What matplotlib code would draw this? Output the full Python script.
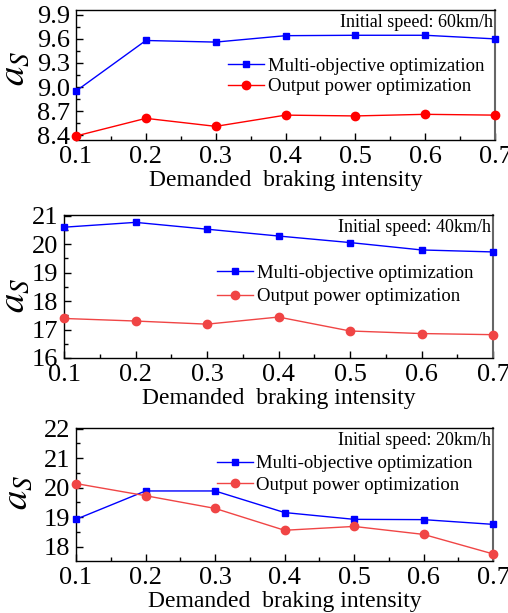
import matplotlib
matplotlib.use("Agg")
import matplotlib.pyplot as plt
from matplotlib.ticker import MultipleLocator, AutoMinorLocator

plt.rcParams.update({
    "font.family": "Liberation Serif",
    "mathtext.fontset": "stix",
    "font.size": 16,
    "xtick.direction": "in",
    "ytick.direction": "in",
})

intensity = [0.1, 0.2, 0.3, 0.4, 0.5, 0.6, 0.7]

multi_60 = [8.95, 9.58, 9.56, 9.64, 9.645, 9.645, 9.60]
power_60 = [8.39, 8.61, 8.51, 8.65, 8.64, 8.66, 8.65]

multi_40 = [20.60, 20.77, 20.53, 20.29, 20.06, 19.80, 19.73]
power_40 = [17.39, 17.30, 17.19, 17.44, 16.95, 16.86, 16.82]

multi_20 = [18.93, 19.89, 19.89, 19.16, 18.93, 18.92, 18.76]
power_20 = [20.14, 19.73, 19.30, 18.56, 18.69, 18.42, 17.76]

speed_labels = ["Initial speed: 60km/h", "Initial speed: 40km/h", "Initial speed: 20km/h"]

BLUE = "#0000FF"

panels = [
    # rect, multi, power, red, ylim, ystep, yfmt, legend anchor, label spacing, ylabel xy
    ([0.1496, 0.7716, 0.825, 0.2121], multi_60, power_60, "#FF0000",
     (8.34, 9.96), 0.3, "{:.1f}", (0.363, 0.49), 0.18, (-0.102, 0.55)),
    ([0.126, 0.416, 0.8445, 0.2333], multi_40, power_40, "#F04545",
     (16.0, 21.03), 1.0, "{:.0f}", (0.357, 0.51), 0.32, (-0.072, 0.44)),
    ([0.1496, 0.0848, 0.821, 0.217], multi_20, power_20, "#F04545",
     (17.52, 22.02), 1.0, "{:.0f}", (0.338, 0.65), 0.22, (-0.096, 0.52)),
]

fig = plt.figure(figsize=(5.08, 6.13), dpi=100)

for (rect, multi, power, red, ylim, ystep, yfmt, anchor, lsp, ylab_xy), speed in zip(panels, speed_labels):
    ax = fig.add_axes(rect)
    ax.plot(intensity, multi, "-s", color=BLUE, lw=1, markersize=5,
            label="Multi-objective optimization", clip_on=False, zorder=3)
    ax.plot(intensity, power, "-o", color=red, lw=1, markersize=6,
            label="Output power optimization", clip_on=False, zorder=3)
    ax.set_xlim(0.1, 0.7)
    ax.set_ylim(*ylim)
    ax.xaxis.set_major_locator(MultipleLocator(0.1))
    ax.xaxis.set_minor_locator(AutoMinorLocator(2))
    ax.yaxis.set_major_locator(MultipleLocator(ystep))
    ax.yaxis.set_minor_locator(AutoMinorLocator(2))
    ax.yaxis.set_major_formatter(lambda v, p, f=yfmt: f.format(v))
    ax.tick_params(which="major", length=5, width=1, top=False, right=False,
                   pad=4, labelsize=19)
    ax.tick_params(which="minor", length=3, width=1, top=False, right=False)
    for s in ax.spines.values():
        s.set_linewidth(1)
    ax.spines["right"].set_color("#666666")
    ax.spines["right"].set_linewidth(1.5)
    ax.set_xlabel("Demanded  braking intensity", fontsize=17, labelpad=2)
    ax.set_ylabel("$a_S$", fontsize=28)
    ax.yaxis.set_label_coords(*ylab_xy)
    ax.text(0.995, 0.97, speed, transform=ax.transAxes, ha="right", va="top", fontsize=13)
    ax.legend(loc="center left", bbox_to_anchor=anchor, frameon=False, fontsize=13.5,
              handlelength=1.9, handletextpad=0.2, borderpad=0, labelspacing=lsp,
              borderaxespad=0)

fig.savefig("out.png", dpi=100)
